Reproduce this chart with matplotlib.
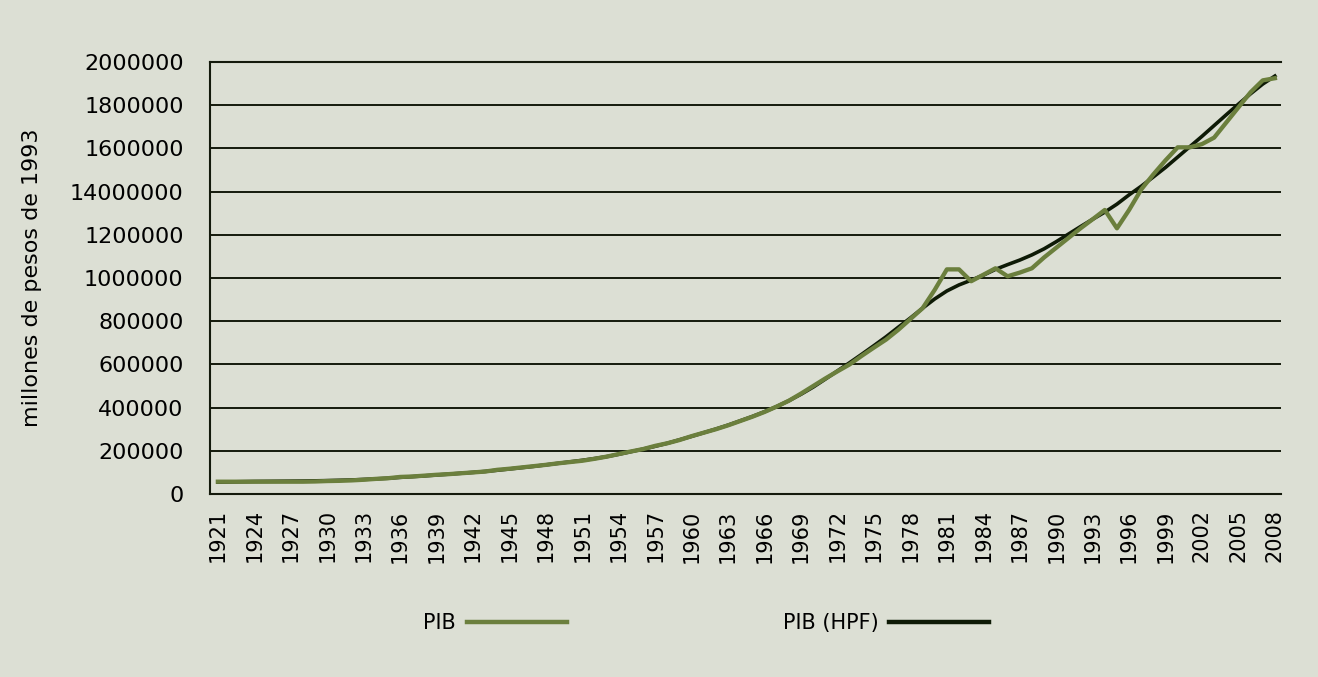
import matplotlib
matplotlib.use("Agg")
import matplotlib.pyplot as plt
import numpy as np

# datos (millones de pesos de 1993)
years = list(range(1921, 2009))

pib = [
    57000, 57000, 57000, 57000, 57000, 57000, 57000, 57000, 58000, 60000,
    61000, 63000, 66000, 70000, 73000, 79000, 81000, 85000, 89000, 92000,
    96000, 100000, 104000, 112000, 117000, 123000, 129000, 135000, 142000, 148000,
    154000, 163000, 173000, 185000, 197000, 208000, 223000, 235000, 250000, 268000,
    284000, 300000, 318000, 338000, 358000, 380000, 405000, 432000, 465000, 500000,
    535000, 568000, 600000, 640000, 678000, 715000, 760000, 810000, 860000, 945000,
    1040000, 1040000, 985000, 1015000, 1045000, 1008000, 1025000, 1045000, 1095000, 1140000,
    1185000, 1230000, 1272000, 1315000, 1230000, 1315000, 1410000, 1480000, 1545000, 1605000,
    1605000, 1620000, 1650000, 1720000, 1790000, 1860000, 1915000, 1925000,
]

pib_hpf = [
    55000, 56000, 57000, 58000, 58500, 59000, 59500, 60000, 61000, 62000,
    63500, 65000, 67500, 70000, 73000, 77000, 80500, 84000, 88000, 92000,
    96000, 100000, 104500, 110000, 116000, 122000, 128000, 135000, 142000, 149000,
    156000, 164000, 173000, 184000, 196000, 208000, 221000, 235000, 251000, 267000,
    284000, 301000, 319000, 339000, 359000, 381000, 405000, 432000, 462000, 495000,
    532000, 570000, 608000, 647000, 687000, 728000, 772000, 815000, 860000, 903000,
    940000, 968000, 990000, 1013000, 1040000, 1062000, 1083000, 1107000, 1135000, 1168000,
    1203000, 1238000, 1272000, 1305000, 1342000, 1385000, 1425000, 1468000, 1512000, 1560000,
    1608000, 1656000, 1706000, 1756000, 1805000, 1853000, 1898000, 1935000,
]

y_ticks = [0, 200000, 400000, 600000, 800000, 1000000, 1200000, 1400000, 1600000, 1800000, 2000000]
y_labels = ["0", "200000", "400000", "600000", "800000", "1000000", "1200000",
            "14000000", "1600000", "1800000", "2000000"]

bg = "#dcdfd4"
green = "#6b7f3d"
dark = "#0e1a06"

fig = plt.figure(figsize=(13.18, 6.77), dpi=100, facecolor=bg)
ax = fig.add_axes([0.1593, 0.2703, 0.8126, 0.6381])
ax.set_facecolor(bg)

x = np.arange(len(years))
l_hpf, = ax.plot(x, pib_hpf, color=dark, lw=2.6, zorder=3, label="PIB (HPF)")
l_pib, = ax.plot(x, pib, color=green, lw=3.1, zorder=4, label="PIB")

ax.set_xlim(-0.65, len(years) - 0.5)
ax.set_ylim(0, 2000000)

ax.set_yticks(y_ticks)
ax.set_yticklabels(y_labels)
ax.set_xticks(x[::3])
ax.set_xticklabels([str(y) for y in years[::3]], rotation=90)

ax.tick_params(axis="y", length=0, pad=19, labelsize=16)
ax.tick_params(axis="x", length=0, pad=11, labelsize=15)

ax.yaxis.grid(True, color="#141a0c", lw=1.4)
ax.set_axisbelow(True)

for side in ["left", "bottom", "top"]:
    ax.spines[side].set_color("#141a0c")
    ax.spines[side].set_linewidth(1.5)
ax.spines["right"].set_visible(False)

ax.set_ylabel("millones de pesos de 1993", fontsize=16)
ax.yaxis.set_label_coords(-0.157, 0.5)

leg = fig.legend(handles=[l_pib, l_hpf], loc="center", bbox_to_anchor=(0.536, 0.08),
                 ncol=2, frameon=False, markerfirst=False, fontsize=15,
                 handlelength=4.8, handletextpad=0.5, columnspacing=10.4)
for h in leg.legend_handles:
    h.set_linewidth(3.2)

fig.savefig("out.png", dpi=100, facecolor=bg)
